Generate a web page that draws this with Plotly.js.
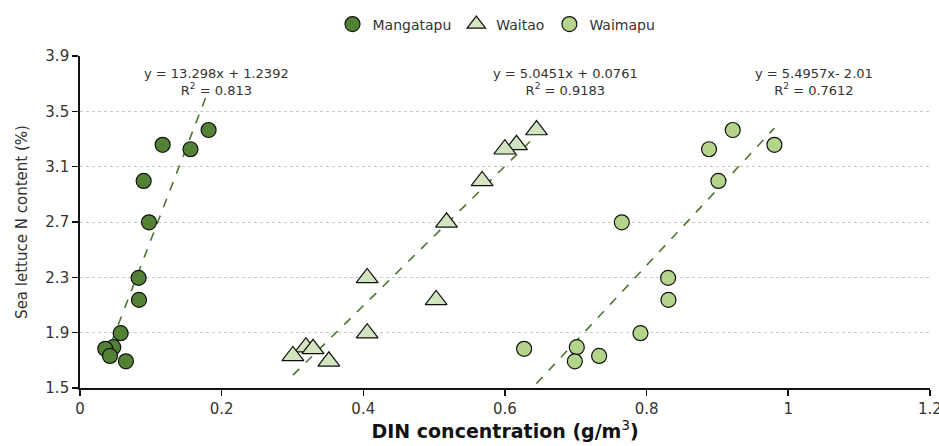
<!DOCTYPE html>
<html>
<head>
<meta charset="utf-8">
<script src="https://cdn.plot.ly/plotly-3.0.1.min.js"></script>
<style>html,body{margin:0;padding:0;background:#fff;}#chart{width:939px;height:446px;}</style>
</head>
<body>
<div id="chart"></div>
<script>
// ---- data ----
const seriesNames = ["Mangatapu", "Waitao", "Waimapu"];

const mangatapuX = [0.1816, 0.1167, 0.1560, 0.0899, 0.0974, 0.0828, 0.0833, 0.0574, 0.0470, 0.0357, 0.0423, 0.0649];
const mangatapuY = [3.365, 3.258, 3.226, 2.997, 2.698, 2.296, 2.137, 1.896, 1.795, 1.783, 1.732, 1.693];

const waitaoX = [0.6446, 0.6163, 0.5999, 0.5678, 0.5175, 0.4055, 0.5029, 0.4055, 0.3190, 0.3290, 0.3006, 0.3514];
const waitaoY = [3.365, 3.258, 3.226, 2.997, 2.698, 2.296, 2.137, 1.896, 1.795, 1.783, 1.732, 1.693];

const waimapuX = [0.9217, 0.9805, 0.8882, 0.9014, 0.7650, 0.8304, 0.8309, 0.7914, 0.7015, 0.6271, 0.7330, 0.6987];
const waimapuY = [3.365, 3.258, 3.226, 2.997, 2.698, 2.296, 2.137, 1.896, 1.795, 1.783, 1.732, 1.693];

// trendline coefficients (slope, intercept) and labels
const trendSlope = [13.298, 5.0451, 5.4957];
const trendIntercept = [1.2392, 0.0761, -2.01];
const trendEquations = ["y = 13.298x + 1.2392", "y = 5.0451x + 0.0761", "y = 5.4957x- 2.01"];
const trendR2 = ["0.813", "0.9183", "0.7612"];
const labelX = [0.193, 0.685, 1.036];
const labelY = 3.715;

const xTickVals = [0, 0.2, 0.4, 0.6, 0.8, 1, 1.2];
const xTickText = ["0", "0.2", "0.4", "0.6", "0.8", "1", "1.2"];
const yTickVals = [1.5, 1.9, 2.3, 2.7, 3.1, 3.5, 3.9];

// ---- styling ----
const FONT = "DejaVu Sans, sans-serif";
const xs = [mangatapuX, waitaoX, waimapuX];
const ys = [mangatapuY, waitaoY, waimapuY];
const fills = ["#548235", "#D3E4C0", "#B4D48C"];
const symbols = ["circle", "triangle-up", "circle"];
const sizes = [15, 19, 15];

const traces = [];
for (let i = 0; i < 3; i++) {
  const lo = Math.min(...xs[i]), hi = Math.max(...xs[i]);
  traces.push({
    x: [lo, hi],
    y: [trendSlope[i] * lo + trendIntercept[i], trendSlope[i] * hi + trendIntercept[i]],
    mode: "lines", type: "scatter", showlegend: false, hoverinfo: "skip",
    line: {color: "#4E7530", width: 1.6, dash: "dash"}
  });
}
for (let i = 0; i < 3; i++) {
  traces.push({
    x: xs[i], y: ys[i], name: seriesNames[i],
    mode: "markers", type: "scatter",
    marker: {symbol: symbols[i], size: sizes[i], color: fills[i], line: {color: "#111", width: 1.2}},
    cliponaxis: false
  });
}

const annotations = trendEquations.map((eq, i) => ({
  x: labelX[i], y: labelY, xref: "x", yref: "y",
  text: eq + "<br>R<sup>2</sup> = " + trendR2[i],
  showarrow: false, align: "center",
  font: {family: FONT, size: 13, color: "#333"}
}));

const layout = {
  width: 939, height: 446,
  margin: {l: 80, r: 9, t: 54, b: 58},
  paper_bgcolor: "#fff", plot_bgcolor: "#fff",
  font: {family: FONT, color: "#222"},
  showlegend: true,
  legend: {orientation: "h", x: 0.49, xanchor: "center", y: 1.095, yanchor: "middle",
           font: {family: FONT, size: 14, color: "#333"}, itemwidth: 30},
  xaxis: {
    range: [0, 1.2002], tickmode: "array", tickvals: xTickVals, ticktext: xTickText,
    ticks: "outside", ticklen: 6, tickwidth: 1.5, tickcolor: "#111",
    showline: true, linecolor: "#111", linewidth: 1.8,
    showgrid: false, zeroline: false, ticklabeloverflow: "allow",
    tickfont: {family: FONT, size: 15, color: "#333"},
    title: {text: "<b>DIN concentration (g/m</b><sup>3</sup><b>)</b>", font: {family: FONT, size: 19, color: "#111"}, standoff: 4}
  },
  yaxis: {
    range: [1.5, 3.9], tickmode: "array", tickvals: yTickVals, ticktext: yTickVals.map(v => v.toFixed(1)),
    ticks: "outside", ticklen: 6, tickwidth: 1.5, tickcolor: "#111",
    showline: true, linecolor: "#111", linewidth: 1.8,
    showgrid: true, gridcolor: "#c8c8c8", gridwidth: 1, griddash: "dot",
    zeroline: false,
    tickfont: {family: FONT, size: 15, color: "#333"},
    title: {text: "Sea lettuce N content (%)", font: {family: FONT, size: 15, color: "#333"}, standoff: 14}
  },
  annotations: annotations
};

Plotly.newPlot("chart", traces, layout, {staticPlot: true, displayModeBar: false});
</script>
</body>
</html>
